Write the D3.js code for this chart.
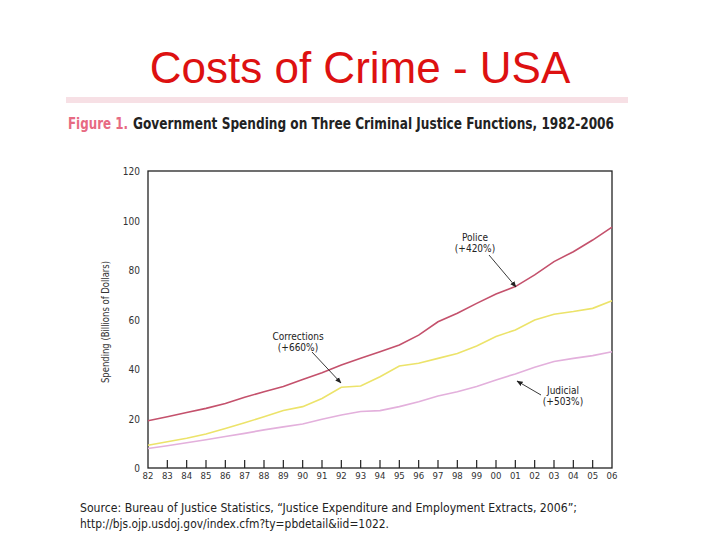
<!DOCTYPE html>
<head>
<meta charset="utf-8">
<style>
body { margin: 0; background: #fff; }
text { font-family: "Liberation Sans Narrow", "DejaVu Sans Condensed", "Liberation Sans", sans-serif; }
.title { font-family: "Liberation Sans", Arial, sans-serif; }
</style>
</head>
<body>
<script src="https://cdn.jsdelivr.net/npm/d3@7"></script>
<script>

// data (billions of dollars)
var years = d3.range(1982, 2007);
var yearLabels = ["82","83","84","85","86","87","88","89","90","91","92","93","94","95","96","97","98","99","00","01","02","03","04","05","06"];
var police = [19.1, 20.7, 22.4, 24.1, 26.1, 28.6, 30.8, 32.9, 35.8, 38.5, 41.6, 44.3, 47.0, 49.7, 53.7, 59.1, 62.5, 66.5, 70.3, 73.3, 78.0, 83.4, 87.4, 92.1, 97.3];
var corrections = [9.2, 10.6, 12.0, 13.7, 16.0, 18.3, 20.7, 23.2, 24.8, 28.1, 32.6, 33.1, 36.9, 41.2, 42.3, 44.3, 46.3, 49.3, 53.1, 55.8, 59.8, 62.1, 63.2, 64.5, 67.6];
var judicial = [7.9, 9.0, 10.2, 11.4, 12.7, 14.0, 15.4, 16.6, 17.8, 19.7, 21.4, 22.8, 23.2, 24.8, 26.8, 29.1, 30.8, 32.9, 35.6, 38.0, 40.7, 43.0, 44.3, 45.4, 47.0];
var yTicks = [0, 20, 40, 60, 80, 100, 120];

var series = [
  {name: "Police", values: police, color: "#c4516c"},
  {name: "Corrections", values: corrections, color: "#ece36a"},
  {name: "Judicial", values: judicial, color: "#e3b0dc"}
];

var width = 720, height = 540;

var svg = d3.select("body").append("svg")
    .attr("width", width)
    .attr("height", height);

// slide title
svg.append("text")
    .attr("class", "title")
    .attr("x", 360)
    .attr("y", 83)
    .attr("text-anchor", "middle")
    .style("font-size", "44px")
    .style("fill", "#dd1111")
    .text("Costs of Crime - USA");

// pink rule under the title
svg.append("rect")
    .attr("x", 66).attr("y", 97)
    .attr("width", 562).attr("height", 6)
    .style("fill", "#f7e0e5");

// figure caption (two pieces so each can be fitted)
svg.append("text")
    .attr("x", 68)
    .attr("y", 129)
    .attr("textLength", 60)
    .attr("lengthAdjust", "spacingAndGlyphs")
    .style("font-size", "15px")
    .style("font-weight", "bold")
    .style("fill", "#e76a82")
    .text("Figure 1.");
svg.append("text")
    .attr("x", 133)
    .attr("y", 129)
    .attr("textLength", 481)
    .attr("lengthAdjust", "spacingAndGlyphs")
    .style("font-size", "15px")
    .style("font-weight", "bold")
    .style("fill", "#222")
    .text("Government Spending on Three Criminal Justice Functions, 1982-2006");

var x = d3.scaleLinear().domain([1982, 2006]).range([148, 612]);
var y = d3.scaleLinear().domain([0, 120]).range([468, 171]);

// frame
svg.append("rect")
    .attr("x", x(1982)).attr("y", y(120))
    .attr("width", x(2006) - x(1982)).attr("height", y(0) - y(120))
    .style("fill", "none")
    .style("stroke", "#222")
    .style("stroke-width", 1.3);

// y axis labels
svg.append("g").selectAll("text")
    .data(yTicks)
    .enter().append("text")
    .attr("x", 140)
    .attr("y", function(d) { return y(d) + 4; })
    .attr("text-anchor", "end")
    .style("font-size", "10px")
    .style("fill", "#333")
    .text(function(d) { return d; });

svg.append("text")
    .attr("transform", "translate(109,322) rotate(-90)")
    .attr("text-anchor", "middle")
    .attr("textLength", 122)
    .attr("lengthAdjust", "spacingAndGlyphs")
    .style("font-size", "10.5px")
    .style("fill", "#333")
    .text("Spending (Billions of Dollars)");

// x ticks (upward) and labels
svg.append("g").selectAll("line")
    .data(years.slice(1, -1))
    .enter().append("line")
    .attr("x1", function(d) { return x(d); })
    .attr("x2", function(d) { return x(d); })
    .attr("y1", y(0))
    .attr("y2", y(0) - 8)
    .style("stroke", "#222")
    .style("stroke-width", 1.2);

svg.append("g").selectAll("text")
    .data(years)
    .enter().append("text")
    .attr("x", function(d) { return x(d); })
    .attr("y", 479)
    .attr("text-anchor", "middle")
    .style("font-size", "9.5px")
    .style("fill", "#333")
    .text(function(d, i) { return yearLabels[i]; });

// lines
var line = d3.line()
    .x(function(d, i) { return x(years[i]); })
    .y(function(d) { return y(d); });

svg.append("g").selectAll("path")
    .data(series)
    .enter().append("path")
    .attr("d", function(d) { return line(d.values); })
    .style("fill", "none")
    .style("stroke", function(d) { return d.color; })
    .style("stroke-width", 1.6);

// annotations
svg.append("defs").append("marker")
    .attr("id", "arr")
    .attr("viewBox", "0 0 10 10")
    .attr("refX", 9).attr("refY", 5)
    .attr("markerWidth", 7).attr("markerHeight", 7)
    .attr("orient", "auto")
    .append("path")
    .attr("d", "M0,1 L10,5 L0,9 z")
    .style("fill", "#222");

var notes = [
  {lines: ["Police", "(+420%)"], tx: 475, ty: 241, from: [489, 255], to: [516, 287]},
  {lines: ["Corrections", "(+660%)"], tx: 298, ty: 340, from: [312, 352], to: [341, 383]},
  {lines: ["Judicial", "(+503%)"], tx: 563, ty: 394, from: [541, 395], to: [517, 381]}
];

notes.forEach(function(n) {
  n.lines.forEach(function(t, i) {
    svg.append("text")
        .attr("x", n.tx)
        .attr("y", n.ty + i * 11)
        .attr("text-anchor", "middle")
        .style("font-size", "10px")
        .style("fill", "#222")
        .text(t);
  });
  svg.append("line")
      .attr("x1", n.from[0]).attr("y1", n.from[1])
      .attr("x2", n.to[0]).attr("y2", n.to[1])
      .style("stroke", "#222")
      .style("stroke-width", 0.9)
      .attr("marker-end", "url(#arr)");
});

// source note
svg.append("text")
    .attr("x", 80).attr("y", 512)
    .attr("textLength", 497)
    .attr("lengthAdjust", "spacingAndGlyphs")
    .style("font-size", "13px")
    .style("fill", "#222")
    .text("Source: Bureau of Justice Statistics, \u201cJustice Expenditure and Employment Extracts, 2006\u201d;");
svg.append("text")
    .attr("x", 80).attr("y", 528)
    .attr("textLength", 309)
    .attr("lengthAdjust", "spacingAndGlyphs")
    .style("font-size", "13px")
    .style("fill", "#222")
    .text("http://bjs.ojp.usdoj.gov/index.cfm?ty=pbdetail&iid=1022.");

</script>
</body>
